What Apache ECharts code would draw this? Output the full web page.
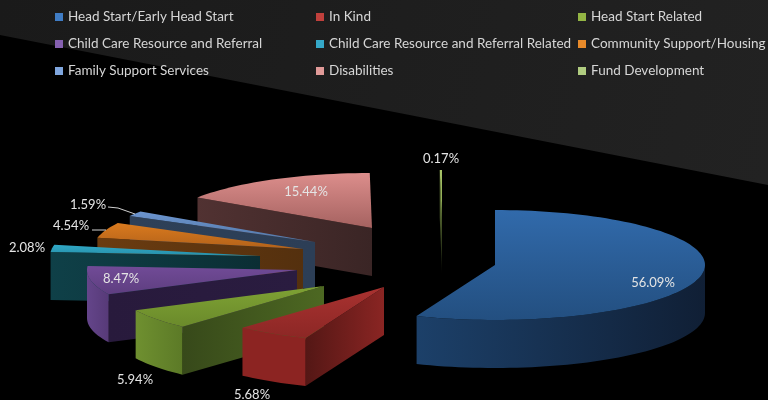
<!DOCTYPE html>
<html>
<head>
<meta charset="utf-8">
<style>
  html, body { margin: 0; padding: 0; background: #000; }
  #chart { width: 768px; height: 400px; filter: blur(0.7px); }
</style>
<script src="https://cdn.jsdelivr.net/npm/echarts@6/dist/echarts.min.js"></script>
</head>
<body>
<div id="chart"></div>
<script>
const categories = [
  'Head Start/Early Head Start', 'In Kind', 'Head Start Related',
  'Child Care Resource and Referral', 'Child Care Resource and Referral Related', 'Community Support/Housing',
  'Family Support Services', 'Disabilities', 'Fund Development'
];
const shares = [56.09, 5.68, 5.94, 8.47, 2.08, 4.54, 1.59, 15.44, 0.17];

const legendColors = ['#3f7cc4', '#c0403c', '#93b544', '#8560b0', '#35a8c8', '#e88a2a', '#7fa6de', '#e09a98', '#b0cc80'];
const topColors = [
  ['#316aab', '#234f80'], ['#a93230', '#8c2725'], ['#7fa234', '#6a8a2b'],
  ['#714b97', '#5e3e80'], ['#30a8c6', '#2790aa'], ['#d97a1e', '#b3621a'],
  ['#6c95d0', '#5378a8'], ['#dc8e8c', '#a56260'], ['#a8c468', '#7f9a48']
];
const outerColors = [
  ['#1c4069', '#101f35'], ['#8c2422', '#8c2422'], ['#6f9030', '#5c7a27'],
  ['#64458a', '#573a78'], ['#154650', '#154650'], ['#5e3510', '#5e3510'],
  ['#2c3e56', '#2c3e56'], ['#553434', '#3e2828'], ['#3a4d1b', '#3a4d1b']
];
const wallColors = [
  ['#1c4069', '#101f35'], ['#541715', '#8a2523'], ['#37491a', '#4d6822'],
  ['#281a3c', '#2a1c40'], ['#0f4048', '#0b2e34'], ['#6b3c10', '#54300e'],
  ['#2e4058', '#2c3e56'], ['#513232', '#3a2525'], ['#7f9a48', '#10140a']
];

// where each wedge's tip was pulled out to, and its label
const tipX = [495, 384, 324, 297, 260, 303, 315, 372, 442];
const tipY = [265, 287, 286, 270, 256, 249, 242, 228, 225];
const labelX = [653, 252, 135, 121, 27, 71, 88, 306, 441];
const labelY = [283, 395, 380, 279, 248, 226, 205, 192, 159];
const drawOrder = [7, 8, 6, 5, 4, 3, 2, 1, 0]; // higher paints later, far wedges first
const leaders = { 5: [[92, 230], [106, 230]], 6: [[108, 207], [118, 208], [135, 214]] };

const RX = 210, RY = 55, DEPTH = 48;
const TOTAL = shares.reduce((a, b) => a + b, 0);

const vGrad = (c) => ({ type: 'linear', x: 0, y: 0, x2: 0, y2: 1, colorStops: [{ offset: 0, color: c[0] }, { offset: 1, color: c[1] }] });
const hGrad = (c) => ({ type: 'linear', x: 0, y: 0, x2: 1, y2: 0, colorStops: [{ offset: 0, color: c[0] }, { offset: 1, color: c[1] }] });

// angles run clockwise from 12 o'clock
const rimPoint = (i, deg, dy = 0) => {
  const a = deg * Math.PI / 180;
  return [tipX[i] + RX * Math.sin(a), tipY[i] - RY * Math.cos(a) + dy];
};
const arcPoints = (i, a0, a1, dy = 0) => {
  const n = Math.max(2, Math.ceil((a1 - a0) / 2));
  return Array.from({ length: n + 1 }, (_, k) => rimPoint(i, a0 + (a1 - a0) * k / n, dy));
};

function sliceRenderer(i) {
  const startShare = shares.slice(0, i).reduce((a, b) => a + b, 0);
  return (params, api) => {
    const a0 = startShare / TOTAL * 360;
    const a1 = a0 + api.value(0) / TOTAL * 360;
    const tip = [tipX[i], tipY[i]];
    const tipLow = [tipX[i], tipY[i] + DEPTH];
    const children = [];
    const poly = (points, fill) => children.push({ type: 'polygon', shape: { points }, style: { fill } });

    // side walls, only the ones facing the viewer
    if (a0 > 180 && a0 < 360) {
      poly([rimPoint(i, a0), tip, tipLow, rimPoint(i, a0, DEPTH)], i === 8 ? vGrad(wallColors[i]) : hGrad(wallColors[i]));
    }
    if (a1 > 0 && a1 < 180) {
      poly([tip, rimPoint(i, a1), rimPoint(i, a1, DEPTH), tipLow], hGrad(wallColors[i]));
    }
    const from = Math.max(a0, 90), to = Math.min(a1, 270);
    if (to > from) {
      poly(arcPoints(i, from, to).concat(arcPoints(i, from, to, DEPTH).reverse()), hGrad(outerColors[i]));
    }

    poly([tip].concat(arcPoints(i, a0, a1)), vGrad(topColors[i]));

    if (leaders[i]) {
      children.push({ type: 'polyline', shape: { points: leaders[i] }, style: { stroke: '#d0d0d0', fill: null, lineWidth: 1 } });
    }
    children.push({
      type: 'text',
      style: {
        text: api.value(0).toFixed(2) + '%', x: labelX[i], y: labelY[i],
        align: 'center', verticalAlign: 'middle',
        fill: '#e4e4e4', font: '13px Lato'
      }
    });
    return { type: 'group', children };
  };
}

const chart = echarts.init(document.getElementById('chart'), null, { renderer: 'canvas' });

const legendColumn = (left, names) => ({
  left, top: 10, orient: 'vertical', itemGap: 13, itemWidth: 8, itemHeight: 8,
  icon: 'rect', selectedMode: false, padding: 0,
  textStyle: { color: '#d6d6d6', fontFamily: 'Lato', fontSize: 13.5, lineHeight: 14, padding: 0 },
  data: names
});

chart.setOption({
  backgroundColor: '#000',
  animation: false,
  graphic: [{
    type: 'polygon', silent: true, z: -1,
    shape: { points: [[0, 0], [768, 0], [768, 185], [0, 35]] },
    style: { fill: { type: 'linear', x: 0, y: 0, x2: 1, y2: 1, colorStops: [{ offset: 0, color: '#1a1a1a' }, { offset: 1, color: '#222222' }] } }
  }],
  legend: [
    legendColumn(55, [categories[0], categories[3], categories[6]]),
    legendColumn(316, [categories[1], categories[4], categories[7]]),
    legendColumn(578, [categories[2], categories[5], categories[8]])
  ],
  series: categories.map((name, i) => ({
    type: 'custom',
    name,
    coordinateSystem: 'none',
    silent: true,
    z: 2 + drawOrder.indexOf(i),
    itemStyle: { color: legendColors[i] },
    renderItem: sliceRenderer(i),
    data: [[shares[i]]]
  }))
});
</script>
</body>
</html>
